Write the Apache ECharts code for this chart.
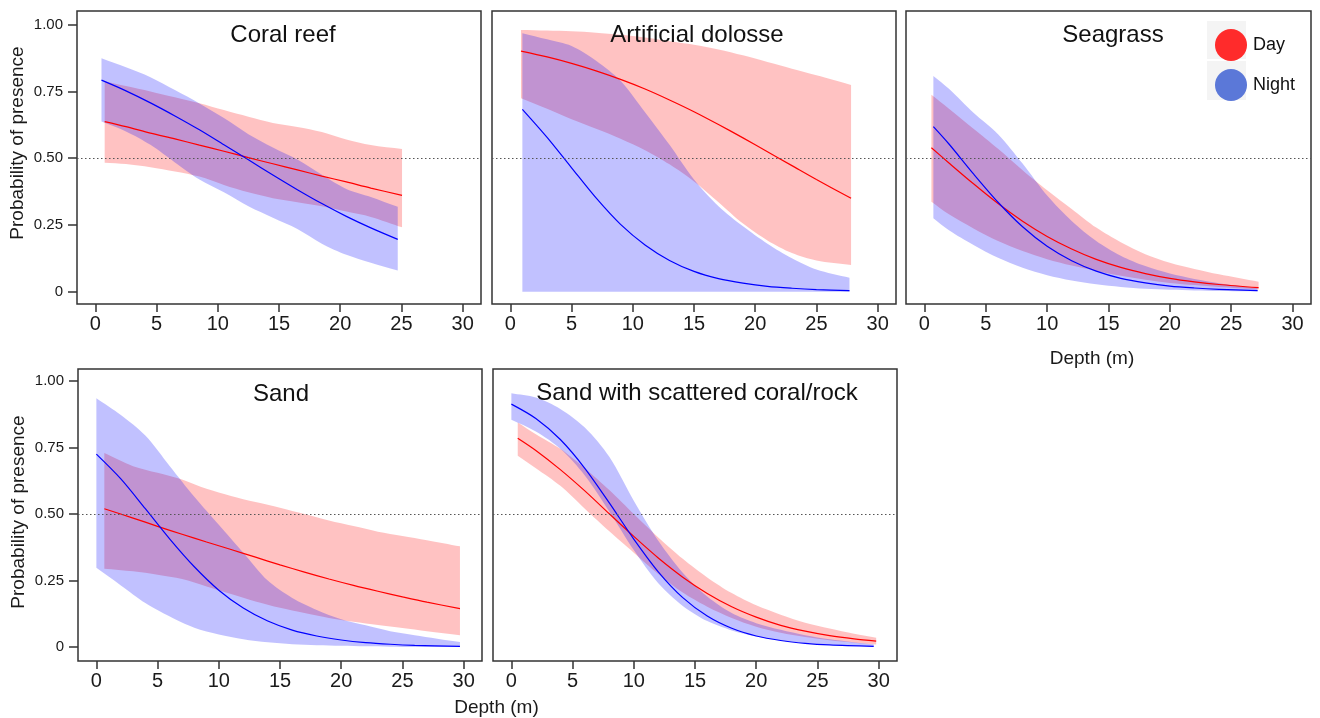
<!DOCTYPE html>
<html>
<head>
<meta charset="utf-8">
<title>Probability of presence by depth</title>
<script src="https://cdn.jsdelivr.net/npm/echarts@6/dist/echarts.min.js"></script>
<style>
  html, body { margin: 0; padding: 0; background: #ffffff; }
  #chart { width: 1320px; height: 718px; }
</style>
</head>
<body>
<div id="chart"></div>
<script>
// ---- Axis ticks and panel titles ----
const depthTicks = [0, 5, 10, 15, 20, 25, 30];
const probTicks = [0, 0.25, 0.5, 0.75, 1];
const habitatNames = ['Coral reef', 'Artificial dolosse', 'Seagrass', 'Sand', 'Sand with scattered coral/rock'];

// ---- Coral reef ----
const coralDayX   = [0.76, 2.5, 4.5, 6.5, 8.5, 10.5, 12.5, 14.5, 16.5, 18.5, 20.5, 22.5, 25.05];
const coralDayFit = [0.637, 0.618, 0.594, 0.572, 0.549, 0.526, 0.502, 0.479, 0.456, 0.433, 0.411, 0.388, 0.361];
const coralDayLo  = [0.483, 0.478, 0.466, 0.450, 0.431, 0.400, 0.372, 0.350, 0.335, 0.320, 0.300, 0.280, 0.241];
const coralDayHi  = [0.787, 0.770, 0.750, 0.728, 0.706, 0.680, 0.655, 0.632, 0.617, 0.598, 0.570, 0.549, 0.534];
const coralNightX   = [0.5, 2.5, 4.5, 6.5, 8.5, 10.5, 12.5, 14.5, 16.5, 18.5, 20.5, 22.5, 24.7];
const coralNightFit = [0.792, 0.752, 0.707, 0.658, 0.606, 0.550, 0.494, 0.437, 0.382, 0.330, 0.282, 0.239, 0.196];
const coralNightLo  = [0.637, 0.600, 0.550, 0.484, 0.420, 0.372, 0.320, 0.277, 0.235, 0.180, 0.138, 0.108, 0.079];
const coralNightHi  = [0.874, 0.840, 0.803, 0.755, 0.705, 0.650, 0.590, 0.540, 0.495, 0.438, 0.385, 0.355, 0.318];

// ---- Artificial dolosse ----
const dolosseDayX   = [0.87, 3, 5, 7, 9, 11, 13, 15, 17, 19, 21, 23, 25, 27.83];
const dolosseDayFit = [0.901, 0.879, 0.855, 0.827, 0.795, 0.759, 0.718, 0.674, 0.626, 0.576, 0.524, 0.472, 0.420, 0.350];
const dolosseDayLo  = [0.724, 0.685, 0.646, 0.610, 0.573, 0.530, 0.477, 0.413, 0.335, 0.255, 0.192, 0.145, 0.117, 0.100];
const dolosseDayHi  = [0.980, 0.978, 0.975, 0.970, 0.962, 0.952, 0.938, 0.925, 0.907, 0.885, 0.860, 0.835, 0.810, 0.774];
const dolosseNightX   = [0.98, 3, 5, 7, 9, 11, 13, 15, 17, 19, 21, 23, 25, 27.7];
const dolosseNightFit = [0.683, 0.578, 0.464, 0.351, 0.252, 0.175, 0.117, 0.076, 0.049, 0.032, 0.020, 0.013, 0.008, 0.004];
const dolosseNightLo  = [0, 0, 0, 0, 0, 0, 0, 0, 0, 0, 0, 0, 0, 0];
const dolosseNightHi  = [0.968, 0.945, 0.920, 0.865, 0.790, 0.672, 0.550, 0.420, 0.320, 0.245, 0.180, 0.125, 0.083, 0.052];

// ---- Seagrass ----
const seagrassDayX   = [0.57, 2, 4, 6, 8, 10, 12, 14, 16, 18, 20, 22, 24, 27.23];
const seagrassDayFit = [0.539, 0.482, 0.404, 0.330, 0.264, 0.207, 0.160, 0.121, 0.091, 0.068, 0.050, 0.037, 0.027, 0.015];
const seagrassDayLo  = [0.337, 0.290, 0.237, 0.190, 0.152, 0.122, 0.098, 0.078, 0.060, 0.045, 0.033, 0.025, 0.018, 0.009];
const seagrassDayHi  = [0.737, 0.685, 0.610, 0.535, 0.455, 0.380, 0.310, 0.240, 0.185, 0.140, 0.108, 0.085, 0.065, 0.037];
const seagrassNightX   = [0.73, 2, 4, 6, 8, 10, 12, 14, 16, 18, 20, 22, 24, 27.15];
const seagrassNightFit = [0.618, 0.553, 0.441, 0.335, 0.243, 0.170, 0.116, 0.077, 0.050, 0.033, 0.021, 0.014, 0.009, 0.004];
const seagrassNightLo  = [0.275, 0.230, 0.175, 0.127, 0.090, 0.062, 0.042, 0.028, 0.018, 0.011, 0.007, 0.005, 0.003, 0.002];
const seagrassNightHi  = [0.808, 0.760, 0.670, 0.590, 0.480, 0.360, 0.265, 0.190, 0.135, 0.096, 0.068, 0.048, 0.032, 0.013];

// ---- Sand ----
const sandDayX   = [0.65, 3, 5, 7, 9, 11, 13, 15, 17, 19, 21, 23, 25, 27, 29.7];
const sandDayFit = [0.520, 0.485, 0.454, 0.424, 0.395, 0.367, 0.338, 0.309, 0.282, 0.256, 0.232, 0.210, 0.189, 0.169, 0.145];
const sandDayLo  = [0.295, 0.285, 0.272, 0.256, 0.228, 0.200, 0.172, 0.148, 0.128, 0.110, 0.095, 0.083, 0.072, 0.060, 0.045];
const sandDayHi  = [0.729, 0.680, 0.655, 0.630, 0.595, 0.568, 0.545, 0.524, 0.500, 0.476, 0.455, 0.434, 0.418, 0.402, 0.379];
const sandNightX   = [0, 2, 4, 6, 8, 10, 12, 14, 16, 18, 20, 22, 24, 26, 29.7];
const sandNightFit = [0.725, 0.632, 0.520, 0.406, 0.302, 0.214, 0.147, 0.098, 0.064, 0.042, 0.027, 0.017, 0.011, 0.007, 0.003];
const sandNightLo  = [0.298, 0.232, 0.166, 0.115, 0.073, 0.048, 0.030, 0.018, 0.011, 0.007, 0.005, 0.003, 0.002, 0.001, 0.001];
const sandNightHi  = [0.935, 0.872, 0.795, 0.680, 0.565, 0.460, 0.355, 0.250, 0.185, 0.140, 0.105, 0.082, 0.060, 0.045, 0.019];

// ---- Sand with scattered coral/rock ----
const mixedDayX   = [0.52, 2, 4, 6, 8, 10, 12, 14, 16, 18, 20, 22, 24, 26, 28, 29.8];
const mixedDayFit = [0.785, 0.739, 0.667, 0.587, 0.501, 0.416, 0.335, 0.263, 0.202, 0.152, 0.113, 0.082, 0.060, 0.043, 0.031, 0.023];
const mixedDayLo  = [0.719, 0.672, 0.606, 0.520, 0.435, 0.355, 0.275, 0.205, 0.152, 0.110, 0.077, 0.054, 0.038, 0.026, 0.017, 0.010];
const mixedDayHi  = [0.844, 0.800, 0.745, 0.672, 0.590, 0.500, 0.412, 0.332, 0.262, 0.203, 0.157, 0.122, 0.092, 0.070, 0.050, 0.035];
const mixedNightX   = [0, 2, 4, 6, 8, 10, 12, 14, 16, 18, 20, 22, 24, 26, 29.6];
const mixedNightFit = [0.913, 0.859, 0.780, 0.672, 0.542, 0.406, 0.283, 0.186, 0.117, 0.071, 0.042, 0.025, 0.0145, 0.0085, 0.003];
const mixedNightLo  = [0.854, 0.810, 0.745, 0.645, 0.510, 0.365, 0.240, 0.155, 0.098, 0.063, 0.040, 0.025, 0.016, 0.010, 0.004];
const mixedNightHi  = [0.954, 0.938, 0.895, 0.825, 0.715, 0.550, 0.400, 0.280, 0.190, 0.128, 0.090, 0.065, 0.045, 0.030, 0.010];

// ---- Panel assembly ----
const panels = [
  { day: [coralDayX, coralDayFit, coralDayLo, coralDayHi], night: [coralNightX, coralNightFit, coralNightLo, coralNightHi] },
  { day: [dolosseDayX, dolosseDayFit, dolosseDayLo, dolosseDayHi], night: [dolosseNightX, dolosseNightFit, dolosseNightLo, dolosseNightHi] },
  { day: [seagrassDayX, seagrassDayFit, seagrassDayLo, seagrassDayHi], night: [seagrassNightX, seagrassNightFit, seagrassNightLo, seagrassNightHi] },
  { day: [sandDayX, sandDayFit, sandDayLo, sandDayHi], night: [sandNightX, sandNightFit, sandNightLo, sandNightHi] },
  { day: [mixedDayX, mixedDayFit, mixedDayLo, mixedDayHi], night: [mixedNightX, mixedNightFit, mixedNightLo, mixedNightHi] }
];

// ---- Layout ----
const boxes = [
  { left: 77,  top: 11,  width: 404, height: 293 },
  { left: 492, top: 11,  width: 404, height: 293 },
  { left: 906, top: 11,  width: 405, height: 293 },
  { left: 78,  top: 369, width: 404, height: 292 },
  { left: 493, top: 369, width: 404, height: 292 }
];
const yRange = [[-0.046, 1.051], [-0.046, 1.051], [-0.046, 1.051], [-0.052, 1.045], [-0.052, 1.045]];
const titleCenters = [278, 692, 1108, 276, 692];
const titleTops = [18, 18, 18, 377, 376];
const FONT = '"Liberation Sans", Arial, sans-serif';
const INK = '#1a1a1a';
const FRAME = '#333333';

const DAY_LINE = '#ff0000', NIGHT_LINE = '#0000ff';
const DAY_BAND = 'rgba(255,0,0,0.24)', NIGHT_BAND = 'rgba(0,0,255,0.245)';

// Confidence band: upper edge left-to-right, lower edge back; the four corner
// points are doubled so the smoothing keeps the vertical ends straight.
function bandRenderer(xs, lo, hi, fill) {
  return function (params, api) {
    if (params.dataIndex !== 0) return null;
    const last = xs.length - 1;
    const pts = [];
    pts.push(api.coord([xs[0], hi[0]]));
    for (let i = 0; i <= last; i++) pts.push(api.coord([xs[i], hi[i]]));
    pts.push(api.coord([xs[last], hi[last]]));
    pts.push(api.coord([xs[last], lo[last]]));
    for (let i = last; i >= 0; i--) pts.push(api.coord([xs[i], lo[i]]));
    pts.push(api.coord([xs[0], lo[0]]));
    return { type: 'polygon', shape: { points: pts, smooth: 0.3 }, style: { fill: fill, stroke: null } };
  };
}

const grids = [], xAxes = [], yAxes = [], series = [], titles = [];

panels.forEach(function (p, i) {
  const b = boxes[i];
  grids.push({ left: b.left, top: b.top, width: b.width, height: b.height, show: true,
    borderColor: FRAME, borderWidth: 1.5, backgroundColor: 'transparent' });

  const x = {
    type: 'value', gridIndex: i, min: -1.5, max: 31.5, position: 'bottom',
    axisLine: { show: false, onZero: false }, splitLine: { show: false },
    axisTick: { show: true, customValues: depthTicks, length: 8, lineStyle: { color: FRAME, width: 1.5 } },
    axisLabel: { show: true, customValues: depthTicks, fontSize: 20, color: INK, margin: 10, fontFamily: FONT }
  };
  if (i === 2) {
    x.name = 'Depth (m)'; x.nameLocation = 'middle'; x.nameGap = 45;
    x.nameTextStyle = { fontSize: 19, color: INK, fontFamily: FONT, padding: [0, 33, 0, 0] };
  }
  if (i === 4) {
    x.name = 'Depth (m)'; x.nameLocation = 'middle'; x.nameGap = 37;
    x.nameTextStyle = { fontSize: 19, color: INK, fontFamily: FONT, padding: [0, 397, 0, 0] };
  }
  xAxes.push(x);

  const labelled = (i === 0 || i === 3);
  const y = {
    type: 'value', gridIndex: i, min: yRange[i][0], max: yRange[i][1], position: 'left',
    axisLine: { show: false, onZero: false }, splitLine: { show: false },
    axisTick: { show: labelled, customValues: probTicks, length: 9, lineStyle: { color: FRAME, width: 1.5 } },
    axisLabel: { show: labelled, customValues: probTicks, fontSize: 15, color: INK, margin: 14, fontFamily: FONT,
      formatter: function (v) { return v === 0 ? '0' : v.toFixed(2); } }
  };
  if (labelled) {
    y.name = 'Probability of presence'; y.nameLocation = 'middle'; y.nameRotate = 90; y.nameGap = 50;
    y.nameTextStyle = { fontSize: 19, color: INK, fontFamily: FONT, padding: i === 0 ? [0, 0, 0, 29] : [0, 0, 0, 6] };
  }
  yAxes.push(y);

  titles.push({ text: habitatNames[i], left: titleCenters[i], top: titleTops[i], textAlign: 'center',
    textStyle: { fontSize: 24, fontWeight: 'normal', color: '#111', fontFamily: FONT } });

  const d = p.day, n = p.night;
  series.push({
    type: 'custom', name: 'Day', xAxisIndex: i, yAxisIndex: i, clip: true, silent: true,
    itemStyle: { color: '#ff2b2b' },
    data: d[0].map(function (v, k) { return [v, d[2][k], d[3][k]]; }),
    encode: { x: 0, y: [1, 2] },
    renderItem: bandRenderer(d[0], d[2], d[3], DAY_BAND), z: 1
  });
  series.push({
    type: 'custom', name: 'Night', xAxisIndex: i, yAxisIndex: i, clip: true, silent: true,
    itemStyle: { color: '#5b78d8' },
    data: n[0].map(function (v, k) { return [v, n[2][k], n[3][k]]; }),
    encode: { x: 0, y: [1, 2] },
    renderItem: bandRenderer(n[0], n[2], n[3], NIGHT_BAND), z: 2
  });
  series.push({
    type: 'line', name: 'Day', xAxisIndex: i, yAxisIndex: i, showSymbol: false, smooth: 0.3,
    lineStyle: { color: DAY_LINE, width: 1.2 }, itemStyle: { color: '#ff2b2b' }, z: 3,
    data: d[0].map(function (v, k) { return [v, d[1][k]]; }),
    markLine: { silent: true, symbol: ['none', 'none'], label: { show: false },
      lineStyle: { color: '#555', type: [1.5, 2.5], width: 1 }, data: [{ yAxis: 0.5 }] }
  });
  series.push({
    type: 'line', name: 'Night', xAxisIndex: i, yAxisIndex: i, showSymbol: false, smooth: 0.3,
    lineStyle: { color: NIGHT_LINE, width: 1.2 }, itemStyle: { color: '#5b78d8' }, z: 4,
    data: n[0].map(function (v, k) { return [v, n[1][k]]; })
  });
});

const chart = echarts.init(document.getElementById('chart'), null, { renderer: 'canvas' });
chart.setOption({
  animation: false,
  backgroundColor: '#ffffff',
  textStyle: { fontFamily: FONT },
  title: titles,
  grid: grids,
  xAxis: xAxes,
  yAxis: yAxes,
  legend: {
    orient: 'vertical', left: 1210, top: 24, itemWidth: 32, itemHeight: 32, itemGap: 8,
    icon: 'circle', selectedMode: false,
    textStyle: { fontSize: 18, color: '#111', fontFamily: FONT, padding: [0, 0, 0, 1] },
    data: [
      { name: 'Day', icon: 'circle', itemStyle: { color: '#ff2b2b', borderWidth: 0 } },
      { name: 'Night', icon: 'circle', itemStyle: { color: '#5b78d8', borderWidth: 0 } }
    ]
  },
  graphic: [
    { type: 'rect', left: 1207, top: 21, shape: { width: 39, height: 38 }, style: { fill: '#f4f4f4' }, z: 0 },
    { type: 'rect', left: 1207, top: 61, shape: { width: 39, height: 39 }, style: { fill: '#f4f4f4' }, z: 0 }
  ],
  series: series
});
</script>
</body>
</html>
